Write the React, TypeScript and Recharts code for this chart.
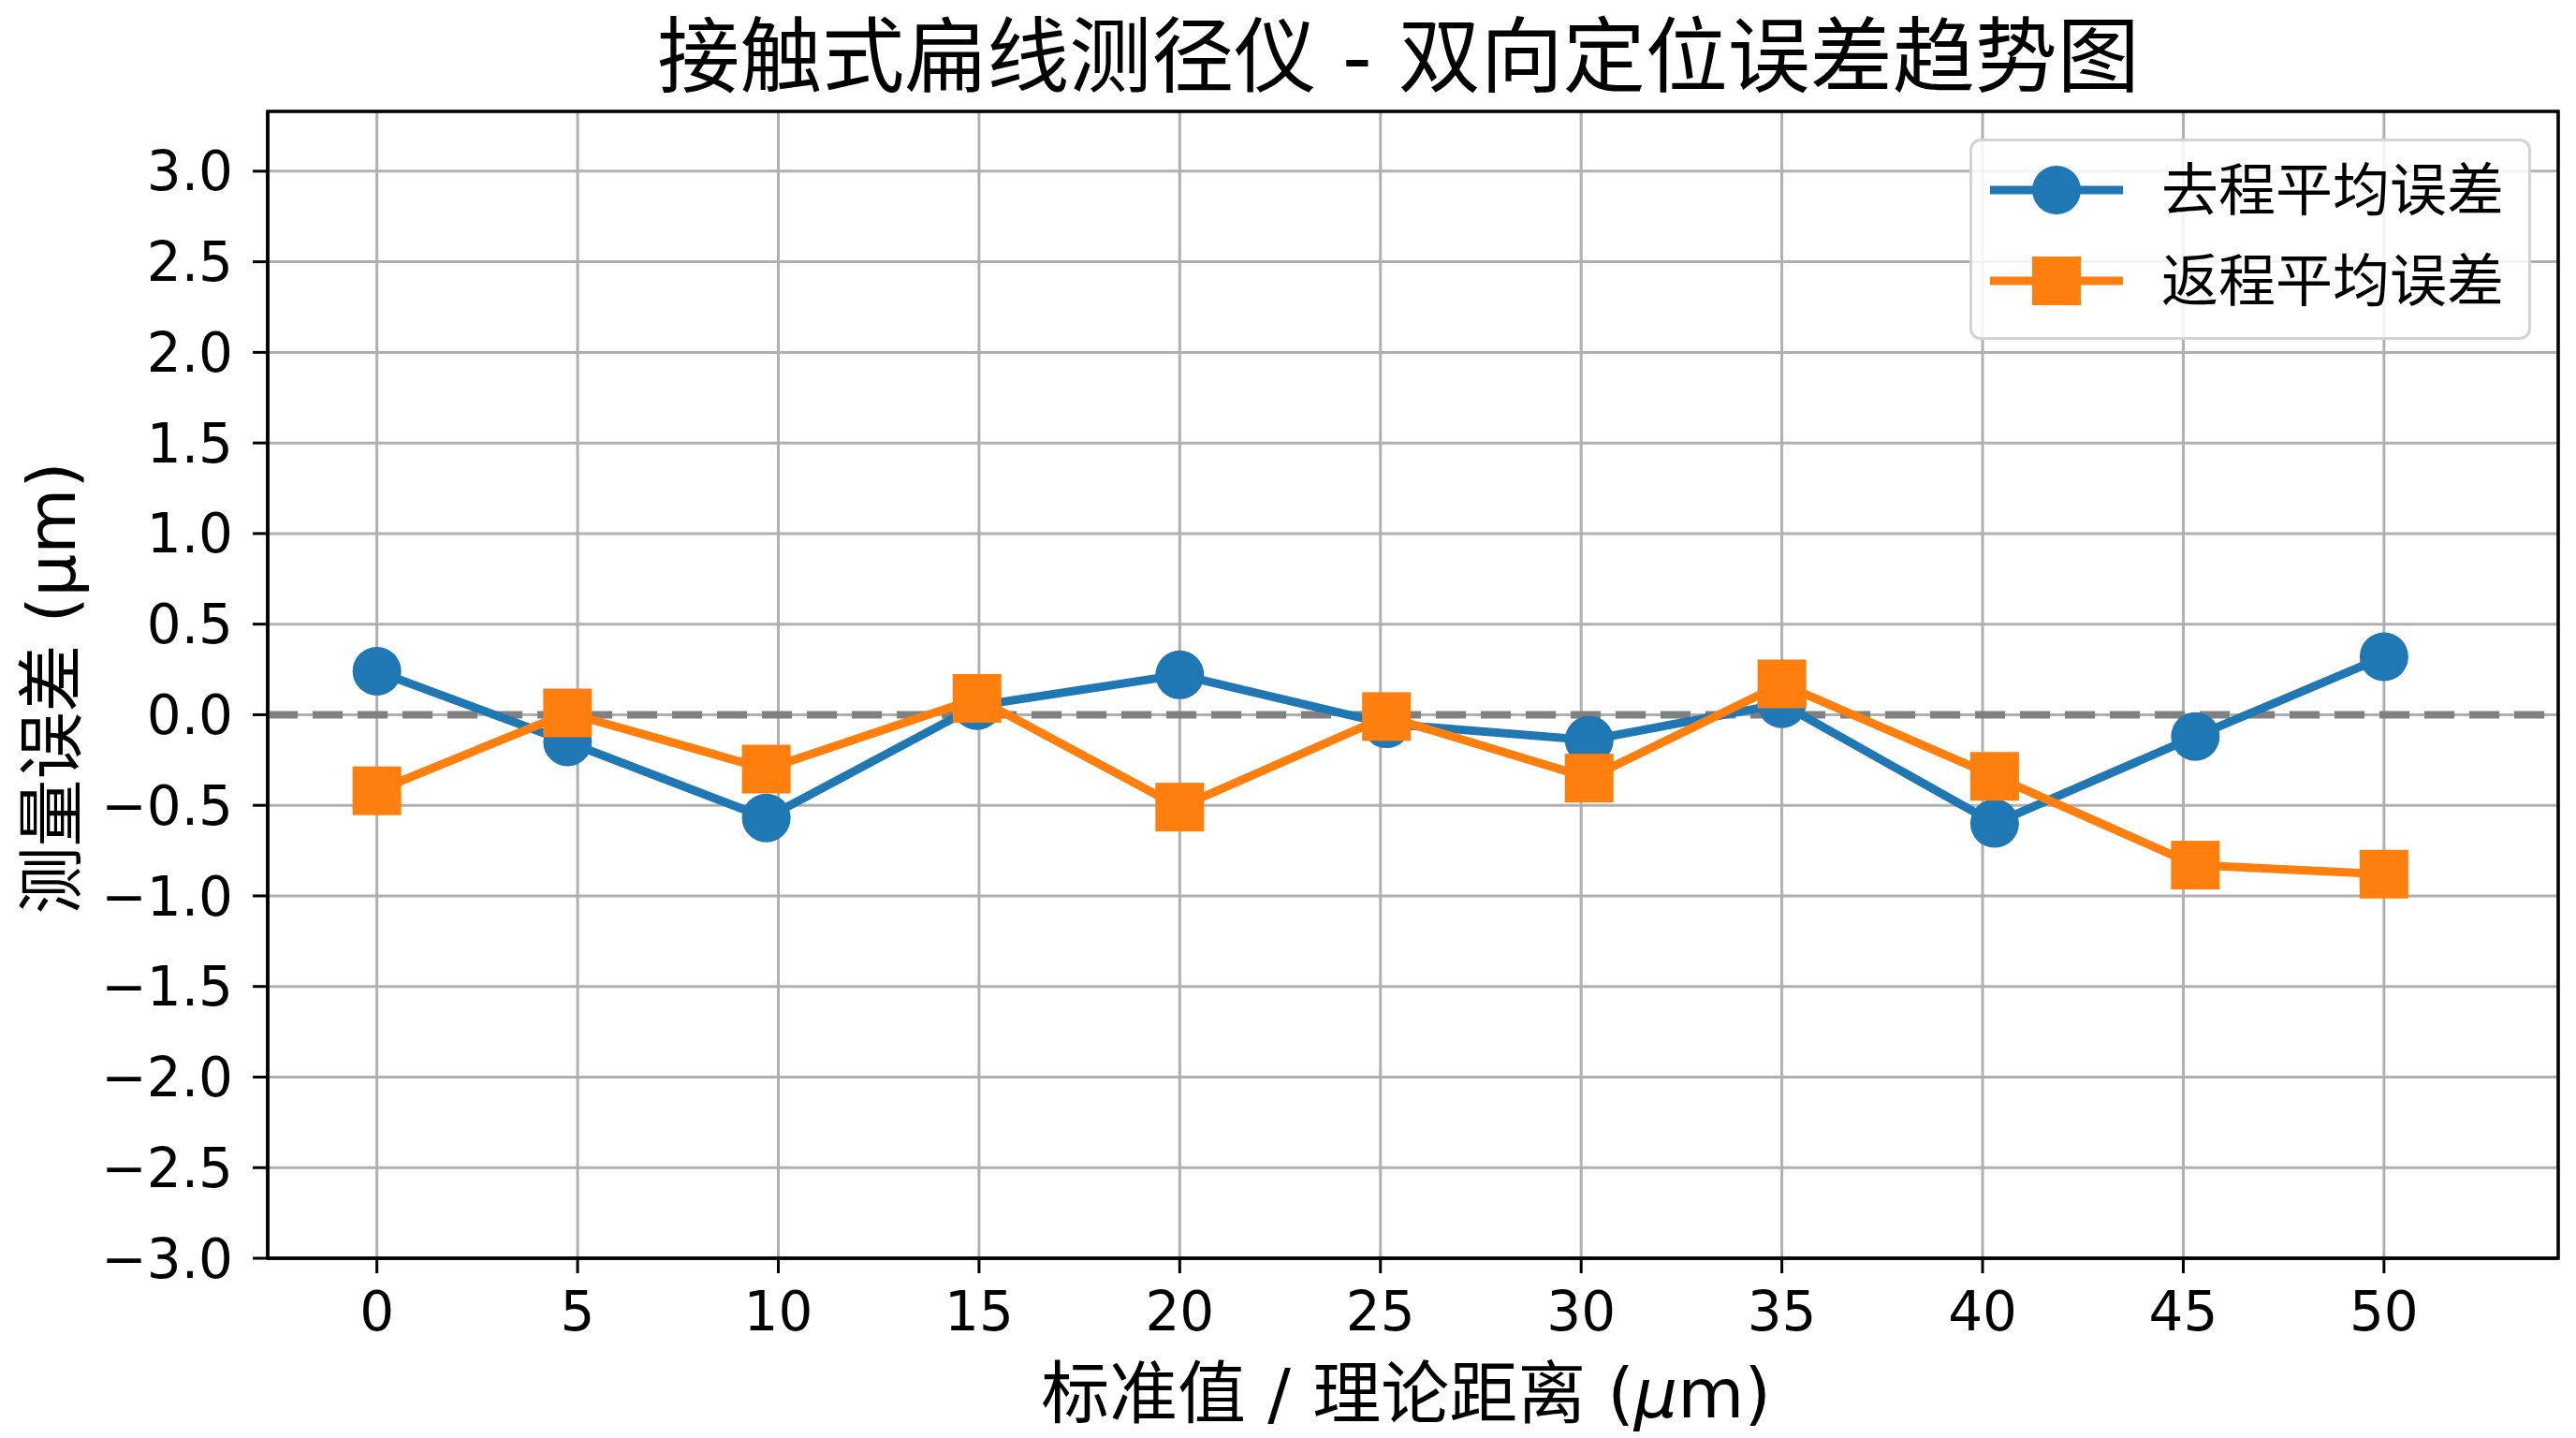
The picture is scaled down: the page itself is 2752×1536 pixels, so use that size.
import { LineChart, Line, XAxis, YAxis, CartesianGrid, ReferenceLine, ReferenceArea, Legend, Customized } from 'recharts'

const positions = [0, 4.75, 9.7, 14.95, 20, 25.15, 30.2, 35, 40.3, 45.3, 50]
const forwardErr = [0.24, -0.15, -0.57, 0.05, 0.22, -0.05, -0.14, 0.06, -0.6, -0.12, 0.32]
const backwardErr = [-0.42, 0.01, -0.3, 0.09, -0.51, -0.01, -0.35, 0.17, -0.34, -0.83, -0.88]

const xTicks = [0, 5, 10, 15, 20, 25, 30, 35, 40, 45, 50]
const yTicks = [-3, -2.5, -2, -1.5, -1, -0.5, 0, 0.5, 1, 1.5, 2, 2.5, 3]

const title = '接触式扁线测径仪 - 双向定位误差趋势图'
const forwardName = '去程平均误差'
const backwardName = '返程平均误差'

const data = positions.map((x, i) => ({ x, forward: forwardErr[i], backward: backwardErr[i] }))

const FONT = '"DejaVu Sans", "Noto Sans CJK SC", sans-serif'
const BLUE = '#1f77b4'
const ORANGE = '#ff7f0e'
const X_DOMAIN: [number, number] = [-2.72, 54.34]
const Y_DOMAIN: [number, number] = [-3, 3.33]

const fmtY = (v: number) => (v < 0 ? '\u2212' : '') + Math.abs(v).toFixed(1)

const squareDot = (props: any) => {
  const { cx, cy, index } = props
  if (cx == null || cy == null) return <g key={index} />
  return <rect key={index} x={cx - 26} y={cy - 26} width={52} height={52} fill={ORANGE} />
}

const Title = () => (
  <text x={1494} y={91} textAnchor="middle" fontSize={88} fontFamily={FONT} fill="#000">
    {title}
  </text>
)

const xLabel = () => (
  <text x={1502} y={1514} textAnchor="middle" fontSize={73} fontFamily={FONT} fill="#000">
    标准值 / 理论距离 (<tspan fontStyle="italic">μ</tspan>m)
  </text>
)

const yLabel = () => (
  <text
    x={55}
    y={735}
    textAnchor="middle"
    dominantBaseline="central"
    transform="rotate(-90, 55, 735)"
    fontSize={72}
    fontFamily={FONT}
    fill="#000"
  >
    测量误差 (μm)
  </text>
)

const legendRows = [
  { name: forwardName, color: BLUE, shape: 'circle' },
  { name: backwardName, color: ORANGE, shape: 'square' },
]

const renderLegend = () => (
  <div
    style={{
      boxSizing: 'border-box',
      width: 600,
      height: 215,
      border: '3px solid #d3d3d3',
      borderRadius: 12,
      background: 'rgba(255,255,255,0.85)',
      position: 'relative',
      fontFamily: FONT,
    }}
  >
    {legendRows.map((r, i) => (
      <div
        key={r.name}
        style={{ position: 'absolute', left: 19, top: 52 + i * 97 - 40, height: 80, display: 'flex', alignItems: 'center' }}
      >
        <svg width={142} height={80}>
          <line x1={0} y1={40} x2={142} y2={40} stroke={r.color} strokeWidth={9} />
          {r.shape === 'circle' ? (
            <circle cx={71} cy={40} r={26} fill={r.color} />
          ) : (
            <rect x={45} y={14} width={52} height={52} fill={r.color} />
          )}
        </svg>
        <span style={{ fontSize: 61, lineHeight: 1, marginLeft: 41, color: '#000' }}>{r.name}</span>
      </div>
    ))}
  </div>
)

export default function App() {
  return (
    <div style={{ position: 'absolute', left: 0, top: 0, width: 2752, height: 1536, background: '#fff' }}>
      <LineChart width={2752} height={1536} data={data} margin={{ top: 119, right: 19, bottom: 0, left: 0 }}>
        <CartesianGrid stroke="#b0b0b0" strokeWidth={3} />
        <XAxis
          dataKey="x"
          type="number"
          domain={X_DOMAIN}
          ticks={xTicks}
          allowDataOverflow
          height={192}
          axisLine={{ stroke: '#000', strokeWidth: 3.5 }}
          tickLine={{ stroke: '#000', strokeWidth: 3 }}
          tickSize={16}
          tickMargin={20}
          tick={{ fontSize: 58, fill: '#000', fontFamily: FONT }}
          label={xLabel}
        />
        <YAxis
          type="number"
          domain={Y_DOMAIN}
          ticks={yTicks}
          allowDataOverflow
          width={286}
          tickFormatter={fmtY}
          axisLine={{ stroke: '#000', strokeWidth: 3.5 }}
          tickLine={{ stroke: '#000', strokeWidth: 3 }}
          tickSize={16}
          tickMargin={21}
          tick={{ fontSize: 58, fill: '#000', fontFamily: FONT }}
          label={yLabel}
        />
        <ReferenceLine y={0} stroke="#808080" strokeWidth={8} strokeDasharray="32 16" />
        <ReferenceArea x1={X_DOMAIN[0]} x2={X_DOMAIN[1]} y1={Y_DOMAIN[0]} y2={Y_DOMAIN[1]} fill="none" stroke="#000" strokeWidth={3.5} />
        <Line
          dataKey="forward"
          name={forwardName}
          stroke={BLUE}
          strokeWidth={9}
          dot={{ r: 26, fill: BLUE, stroke: 'none' }}
          activeDot={false}
          isAnimationActive={false}
        />
        <Line
          dataKey="backward"
          name={backwardName}
          stroke={ORANGE}
          strokeWidth={9}
          dot={squareDot}
          activeDot={false}
          isAnimationActive={false}
        />
        <Legend
          layout="vertical"
          align="center"
          verticalAlign="middle"
          content={renderLegend}
          wrapperStyle={{ left: 2104, top: 148, width: 600, height: 215 }}
        />
        <Customized component={Title} />
      </LineChart>
    </div>
  )
}
